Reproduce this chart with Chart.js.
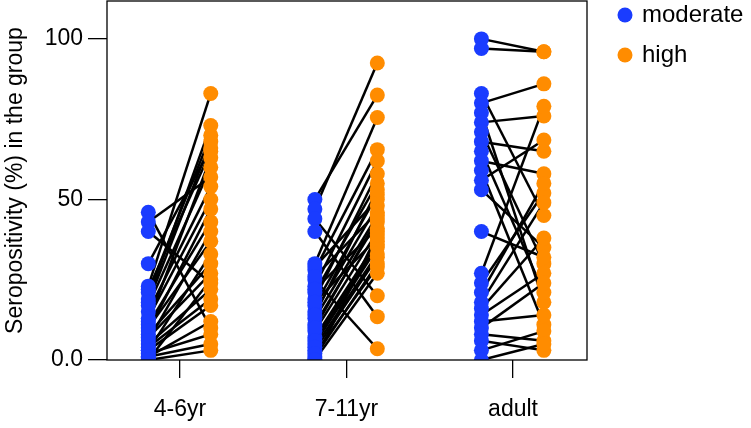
<!DOCTYPE html>
<html>
<head>
<meta charset="utf-8">
<script src="https://cdn.jsdelivr.net/npm/chart.js@4.4.1/dist/chart.umd.min.js"></script>
<style>
  html, body { margin: 0; padding: 0; background: #fff; }
  #wrap { width: 751px; height: 428px; }
</style>
</head>
<body>
<div id="wrap"><canvas id="chart" width="751" height="428"></canvas></div>
<script>
// age groups on the x axis
const groups = ["4-6yr", "7-11yr", "adult"];
const yTicks = [0, 50, 100];
const yTickLabels = ["0.0", "50", "100"];

// paired seropositivity (%) per group: moderate[i] is linked to high[i]
const moderate46 = [46, 43, 40, 30, 23, 21, 19, 17, 15, 13, 11, 10, 8, 7, 5, 4, 3, 2, 1, 0, 22, 18, 12, 9, 6, 3, 1, 0];
const high46     = [10, 57, 24, 66, 83, 70, 73, 60, 54, 50, 43, 37, 30, 27, 22, 19, 17, 8, 5, 3, 65, 68, 63, 47, 40, 33, 12, 25];

const moderate711 = [50, 47, 44, 40, 30, 28, 25, 23, 21, 19, 17, 15, 13, 11, 9, 7, 5, 3, 1, 0, 29, 26, 22, 18, 14, 10, 6, 4, 2, 0];
const high711     = [82.5, 92.5, 20, 13.5, 75.5, 65.5, 3.5, 62, 55, 58, 51.5, 48, 45, 43, 40, 37, 35, 32, 30, 27, 50, 46, 41, 38, 53, 44, 36, 33, 29, 39];

const moderateAdult = [100, 97, 83, 80, 77, 74, 71, 68, 65, 62, 59, 56, 53, 40, 27, 24, 21, 18, 16, 14, 12, 10, 8, 6, 3, 0];
const highAdult     = [96, 96, 45, 86, 18, 76, 30, 65, 21, 58, 11, 68.5, 35, 32, 79, 52, 55, 49, 38, 27, 14, 24, 6, 3, 9, 5];

const moderateByGroup = [moderate46, moderate711, moderateAdult];
const highByGroup = [high46, high711, highAdult];

const blue = "#1a3cff";
const orange = "#ff8c00";
const offMod = -0.19;
const offHigh = 0.185;

const modPoints = [];
const highPoints = [];
const pairSets = [];
moderateByGroup.forEach((mods, g) => {
  const xc = g + 1;
  mods.forEach((m, i) => {
    const h = highByGroup[g][i];
    modPoints.push({ x: xc + offMod, y: m });
    highPoints.push({ x: xc + offHigh, y: h });
    pairSets.push({
      label: "",
      data: [{ x: xc + offMod, y: m }, { x: xc + offHigh, y: h }],
      showLine: true,
      borderColor: "#000",
      borderWidth: 2.5,
      pointRadius: 0,
      order: 2
    });
  });
});

const font = "'Liberation Sans', Arial, Helvetica, sans-serif";

// box around plot + hand drawn legend at top right
const boxAndLegend = {
  id: "boxAndLegend",
  afterDraw(chart) {
    const { ctx, chartArea } = chart;
    ctx.save();
    ctx.strokeStyle = "#000";
    ctx.lineWidth = 1.3;
    ctx.strokeRect(chartArea.left, chartArea.top, chartArea.right - chartArea.left, chartArea.bottom - chartArea.top);

    const items = chart.data.datasets.filter((d) => d.label);
    ctx.font = "24px " + font;
    ctx.textBaseline = "middle";
    items.forEach((d, i) => {
      const y = 15 + i * 40;
      ctx.fillStyle = d.backgroundColor;
      ctx.beginPath();
      ctx.arc(625, y, 7.5, 0, Math.PI * 2);
      ctx.fill();
      ctx.fillStyle = "#000";
      ctx.fillText(d.label, 642, y);
    });
    ctx.restore();
  }
};

new Chart(document.getElementById("chart"), {
  type: "scatter",
  data: {
    datasets: [
      { label: "moderate", data: modPoints, backgroundColor: blue, borderWidth: 0, pointRadius: 7.5, order: 0 },
      { label: "high", data: highPoints, backgroundColor: orange, borderWidth: 0, pointRadius: 7.5, order: 1 },
      ...pairSets
    ]
  },
  options: {
    responsive: false,
    animation: false,
    events: [],
    layout: { autoPadding: false, padding: { top: 1, right: 164, left: 0, bottom: 0 } },
    plugins: {
      legend: { display: false },
      tooltip: { enabled: false }
    },
    scales: {
      x: {
        type: "linear",
        min: 0.562,
        max: 3.444,
        afterFit: (s) => { s.height = 68; s.paddingLeft = 0; s.paddingRight = 0; },
        afterBuildTicks: (s) => { s.ticks = groups.map((_, i) => ({ value: i + 1 })); },
        ticks: {
          color: "#000",
          font: { family: font, size: 23 },
          padding: 18,
          maxRotation: 0,
          callback: (v) => groups[v - 1]
        },
        grid: { drawOnChartArea: false, drawTicks: true, tickLength: 18, color: "#000", lineWidth: 1.3 },
        border: { display: false }
      },
      y: {
        min: 0,
        max: 111.8,
        afterFit: (s) => { s.width = 107; s.paddingTop = 0; s.paddingBottom = 0; },
        afterBuildTicks: (s) => { s.ticks = yTicks.map((v) => ({ value: v })); },
        ticks: {
          color: "#000",
          font: { family: font, size: 23 },
          padding: 5,
          callback: (v) => yTickLabels[yTicks.indexOf(v)]
        },
        grid: { drawOnChartArea: false, drawTicks: true, tickLength: 19, color: "#000", lineWidth: 1.3 },
        border: { display: false },
        title: {
          display: true,
          text: "Seropositivity (%) in the group",
          color: "#000",
          font: { family: font, size: 23 },
          padding: { top: 2, bottom: 0 }
        }
      }
    }
  },
  plugins: [boxAndLegend]
});
</script>
</body>
</html>
